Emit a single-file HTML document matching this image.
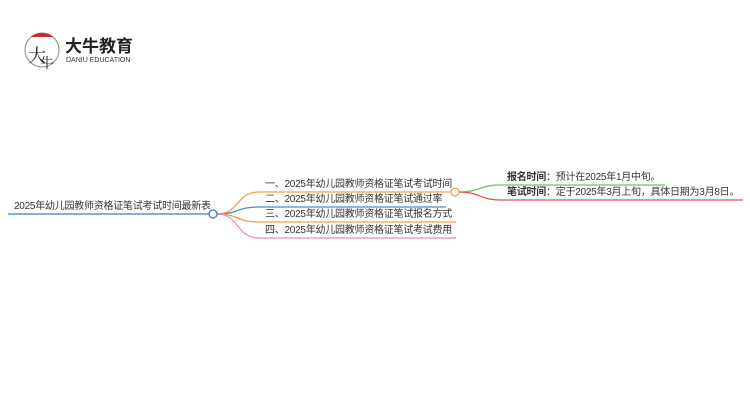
<!DOCTYPE html>
<html><head><meta charset="utf-8"><style>
body{margin:0;width:750px;height:410px;background:#fff;position:relative;overflow:hidden;font-family:"Liberation Sans","Noto Sans CJK SC",sans-serif;}
.t{position:absolute;font-size:10px;color:#333;white-space:nowrap;line-height:12px;letter-spacing:-0.25px;}
</style></head><body>
<svg width="750" height="410" style="position:absolute;left:0;top:0">
<circle cx="42" cy="50" r="17" fill="#fff" stroke="#888" stroke-width="1"/>
<path d="M31,37 A17,17 0 0 1 53,37 Z" fill="#d0262b"/>
<text x="28" y="62" font-size="18" font-family="Noto Serif CJK SC,serif" fill="#222">大</text>
<text x="40" y="68" font-size="14" font-family="Noto Serif CJK SC,serif" fill="#222">牛</text>
<line x1="8" y1="214" x2="209" y2="214" stroke="#3a7bd5" stroke-width="1.3"/>
<path d="M217,214 C240,214 235,192 260,192 L451,192" fill="none" stroke="#f5a04a" stroke-width="1.3"/>
<path d="M217,214 C240,214 235,207 260,207 L446,207" fill="none" stroke="#4a8ed0" stroke-width="1.3"/>
<path d="M217,214 C240,214 235,222 260,222 L456,222" fill="none" stroke="#f5a04a" stroke-width="1.3"/>
<path d="M217,214 C240,214 235,238 260,238 L456,238" fill="none" stroke="#e88ad0" stroke-width="1.3"/>
<circle cx="213" cy="214" r="4" fill="#fff" stroke="#3a7bd5" stroke-width="1.3"/>
<path d="M459,192 C480,192 480,185 500,185 L665,185" fill="none" stroke="#6cc06c" stroke-width="1.3"/>
<path d="M459,192 C480,192 480,200 500,200 L743,200" fill="none" stroke="#e05050" stroke-width="1.3"/>
<circle cx="455" cy="192" r="4" fill="#fff" stroke="#f5a04a" stroke-width="1.3"/>
</svg>
<div class="t" style="left:65px;top:37px;font-size:17px;line-height:20px;font-weight:bold;color:#222;letter-spacing:0">大牛教育</div>
<div class="t" style="left:66px;top:57px;font-size:7px;line-height:8px;color:#333;letter-spacing:0">DANIU EDUCATION</div>
<div class="t" style="left:14px;top:201px">2025年幼儿园教师资格证笔试考试时间最新表</div>
<div class="t" style="left:265px;top:179px">一、2025年幼儿园教师资格证笔试考试时间</div>
<div class="t" style="left:265px;top:194px">二、2025年幼儿园教师资格证笔试通过率</div>
<div class="t" style="left:265px;top:209px">三、2025年幼儿园教师资格证笔试报名方式</div>
<div class="t" style="left:265px;top:225px">四、2025年幼儿园教师资格证笔试考试费用</div>
<div class="t" style="left:507px;top:172px"><b>报名时间</b>：预计在2025年1月中旬。</div>
<div class="t" style="left:507px;top:187px"><b>笔试时间</b>：定于2025年3月上旬，具体日期为3月8日。</div>
</body></html>
